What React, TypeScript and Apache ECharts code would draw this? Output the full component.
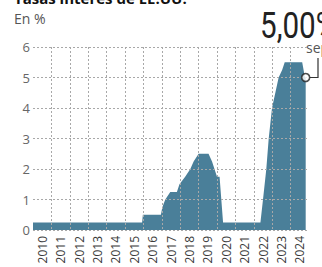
import React, { useEffect, useRef } from "react";
import * as echarts from "echarts";

const yearLabels = ["2010","2011","2012","2013","2014","2015","2016","2017","2018","2019","2020","2021","2022","2023","2024"];
const rateDates = [2010.0, 2015.93, 2015.97, 2016.95, 2017.03, 2017.19, 2017.46, 2017.82, 2017.96, 2018.27, 2018.55, 2018.73, 2019.0, 2019.54, 2019.73, 2020.0, 2020.14, 2020.33, 2022.36, 2022.5, 2022.68, 2022.81, 2022.99, 2023.17, 2023.35, 2023.54, 2023.68, 2024.63, 2024.78, 2024.82];
const rateValues = [0.25, 0.25, 0.5, 0.5, 0.75, 1.0, 1.25, 1.25, 1.5, 1.75, 2.0, 2.25, 2.5, 2.5, 2.25, 1.75, 1.75, 0.25, 0.25, 1.0, 2.0, 3.0, 4.0, 4.5, 5.0, 5.25, 5.5, 5.5, 5.0, 5.0];
const yTicks = [0, 1, 2, 3, 4, 5, 6];
const lastValueLabel = "5,00%";
const lastDateLabel = "sep.";
const titleText = "Tasas interés de EE.UU.";
const unitText = "En %";

const AREA = "#4a7f99";
const GRIDC = "#a8a8a8";

export default function App() {
  const ref = useRef<HTMLDivElement>(null);
  useEffect(() => {
    if (!ref.current) return;
    const chart = echarts.init(ref.current, null, { renderer: "svg" });
    const pts = rateDates.map((d, i) => [d, rateValues[i]]);
    const last = pts[pts.length - 1];
    chart.setOption({
      animation: false,
      grid: { left: 33, right: 13, top: 47, bottom: 37 },
      xAxis: [
        {
          type: "value",
          min: 2010,
          max: 2025,
          interval: 1,
          z: 5,
          axisLine: { show: false },
          axisTick: { show: false },
          axisLabel: { show: false },
          splitLine: {
            show: true,
            showMinLine: false,
            showMaxLine: false,
            lineStyle: { color: GRIDC, type: [2, 2], width: 1 },
          },
        },
        {
          type: "category",
          data: yearLabels,
          boundaryGap: true,
          position: "bottom",
          axisLine: { show: false },
          axisTick: { show: false },
          splitLine: { show: false },
          axisLabel: {
            rotate: 90,
            interval: 0,
            margin: 6,
            fontSize: 12,
            color: "#3a3a3a",
            fontFamily: "Open Sans",
          },
        },
      ],
      yAxis: {
        type: "value",
        min: 0,
        max: 6,
        interval: 1,
        z: 5,
        axisLine: { show: false },
        axisTick: { show: false },
        axisLabel: {
          margin: 3,
          fontSize: 13,
          color: "#666",
          fontFamily: "Open Sans",
          verticalAlign: "middle",
          padding: [0, 0, 5, 0],
          formatter: (v: number) => (yTicks.includes(v) ? String(v) : ""),
        },
        splitLine: {
          show: true,
          lineStyle: { color: GRIDC, type: [2, 2], width: 1 },
        },
      },
      series: [
        {
          type: "line",
          xAxisIndex: 0,
          data: pts,
          symbol: "none",
          z: 1,
          lineStyle: { width: 0, color: AREA },
          areaStyle: { color: AREA, opacity: 1 },
        },
        {
          type: "scatter",
          xAxisIndex: 0,
          data: [last],
          symbol: "circle",
          symbolSize: 8,
          z: 10,
          itemStyle: { color: "#fff", borderColor: "#222", borderWidth: 1.6 },
        },
      ],
    });
    const p = chart.convertToPixel({ xAxisIndex: 0, yAxisIndex: 0 }, last) as number[];
    chart.setOption({
      graphic: [
        {
          type: "text",
          left: 14,
          top: -10,
          style: { text: titleText, font: "bold 15px 'Open Sans'", fill: "#111" },
        },
        {
          type: "text",
          left: 14,
          top: 11,
          style: { text: unitText, font: "14px 'Open Sans'", fill: "#555" },
        },
        {
          type: "text",
          x: 260,
          y: 25,
          scaleX: 0.8,
          style: {
            text: lastValueLabel,
            x: 0,
            y: 0,
            align: "left",
            verticalAlign: "middle",
            font: "37px Roboto",
            fill: "#222",
          },
        },
        {
          type: "text",
          left: 306,
          top: 40,
          style: { text: lastDateLabel, font: "14px 'Open Sans'", fill: "#555" },
        },
        {
          type: "polyline",
          z: 20,
          shape: { points: [[p[0] + 4, p[1]], [318, p[1]], [318, 58]] },
          style: { stroke: "#333", lineWidth: 1.2, fill: null },
        },
      ],
    });
    return () => chart.dispose();
  }, []);
  return (
    <div
      ref={ref}
      style={{ position: "absolute", left: 0, top: 0, width: 322, height: 267, overflow: "hidden", background: "#fff" }}
    />
  );
}
